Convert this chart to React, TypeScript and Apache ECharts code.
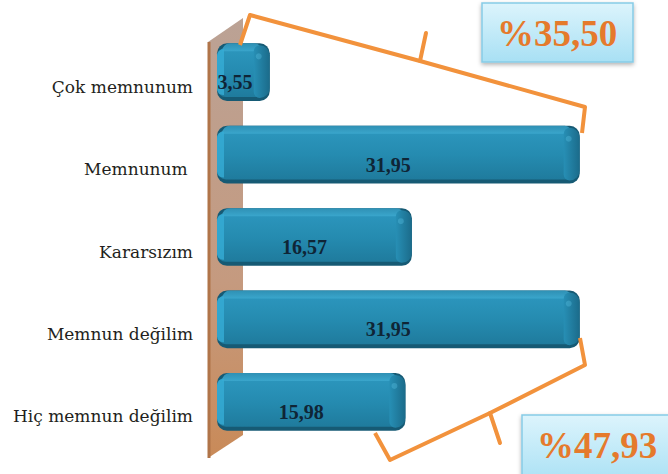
import React, { useEffect, useRef } from 'react';
import * as echarts from 'echarts';

const categories = ['Çok memnunum', 'Memnunum ', 'Kararsızım', 'Memnun değilim', 'Hiç memnun değilim'];
const values = [3.55, 31.95, 16.57, 31.95, 15.98];
const groupTotals = ['%35,50', '%47,93'];

const fmt = (v: number) => v.toFixed(2).replace('.', ',');

export default function App() {
  const ref = useRef<HTMLDivElement>(null);
  useEffect(() => {
    const chart = echarts.init(ref.current!, null, { renderer: 'svg' });
    const LG = echarts.graphic.LinearGradient;
    const orange = '#f2923c';
    const option: any = {
      animation: false,
      backgroundColor: '#ffffff',
      grid: { left: 231, right: 55, top: 31, bottom: 31 },
      xAxis: { type: 'value', min: 0, max: 35, show: false },
      yAxis: {
        type: 'category',
        data: categories,
        inverse: true,
        axisLine: { show: false },
        axisTick: { show: false },
        splitLine: { show: false },
        axisLabel: {
          margin: 38,
          verticalAlign: 'top',
          padding: [6, 0, 0, 0],
          fontFamily: 'DejaVu Serif',
          fontSize: 17,
          color: '#231f20',
        },
      },
      series: [
        {
          type: 'custom',
          z: 5,
          encode: { x: 0, y: 1 },
          data: values.map((v, i) => [v, i]),
          renderItem: (params: any, api: any) => {
            const v = api.value(0);
            const i = api.value(1);
            const end = api.coord([v, i]);
            const zero = api.coord([0, i]);
            const mid = api.coord([v / 2, i]);
            const band = api.size([0, 1])[1];
            const h = band * 0.7;
            const x0 = zero[0] - 14;
            const x1 = end[0];
            const top = end[1] - h / 2;
            const w = x1 - x0;
            return {
              type: 'group',
              children: [
                {
                  type: 'rect',
                  shape: { x: x0, y: top, width: w, height: h, r: 10 },
                  style: { fill: '#165a74' },
                },
                {
                  type: 'rect',
                  shape: { x: x0, y: top + 5, width: w - 8, height: h - 9, r: [8, 4, 4, 9] },
                  style: {
                    fill: new LG(0, 0, 0, 1, [
                      { offset: 0, color: '#2c96bd' },
                      { offset: 0.5, color: '#258bb0' },
                      { offset: 1, color: '#1f7b9d' },
                    ]),
                  },
                },
                {
                  type: 'rect',
                  shape: { x: x0 + 5, y: top, width: w - 14, height: 8, r: [9, 6, 0, 0] },
                  style: {
                    fill: new LG(0, 0, 0, 1, [
                      { offset: 0, color: '#2f90b4' },
                      { offset: 1, color: '#3aa6cc' },
                    ]),
                  },
                },
                {
                  type: 'rect',
                  shape: { x: x0, y: top + 6, width: 7, height: h - 12, r: [6, 0, 0, 6] },
                  style: { fill: '#36acd6', opacity: 0.8 },
                },
                {
                  type: 'rect',
                  shape: { x: x1 - 16, y: top + 2, width: 16, height: h - 5, r: [6, 10, 10, 6] },
                  style: {
                    fill: new LG(0, 0, 1, 0, [
                      { offset: 0, color: '#278fb5' },
                      { offset: 1, color: '#1b6b8a' },
                    ]),
                  },
                },
                {
                  type: 'circle',
                  shape: { cx: x1 - 11, cy: top + 13, r: 3 },
                  style: { fill: '#5cc2e4', opacity: 0.35 },
                },
                {
                  type: 'text',
                  x: Math.max(mid[0] - 17, x0 + 18),
                  y: end[1] + 10,
                  style: {
                    text: fmt(v),
                    font: 'bold 20px "Liberation Serif", serif',
                    fill: '#0f2536',
                    align: 'center',
                    verticalAlign: 'middle',
                  },
                },
              ],
            };
          },
        },
      ],
      graphic: [
        {
          type: 'polygon',
          z: 0,
          shape: { points: [[208, 42], [243, 18], [243, 435], [208, 458]] },
          style: {
            fill: new LG(0, 0, 0, 1, [
              { offset: 0, color: '#bba295' },
              { offset: 0.6, color: '#c59a7f' },
              { offset: 1, color: '#c98a58' },
            ]),
          },
        },
        {
          type: 'line',
          z: 0,
          shape: { x1: 209, y1: 42, x2: 209, y2: 458 },
          style: { stroke: '#b07449', lineWidth: 3 },
        },
        {
          type: 'polyline',
          z: 10,
          shape: { points: [[240, 45], [250, 15], [420, 61], [585, 107], [582, 133]] },
          style: { stroke: orange, lineWidth: 4, fill: null, lineJoin: 'round' },
        },
        {
          type: 'line',
          z: 10,
          shape: { x1: 420, y1: 61, x2: 426, y2: 33 },
          style: { stroke: orange, lineWidth: 4, lineCap: 'round' },
        },
        {
          type: 'polyline',
          z: 10,
          shape: { points: [[580, 338], [585, 365], [490, 413], [390, 460], [375, 433]] },
          style: { stroke: orange, lineWidth: 4, fill: null, lineJoin: 'round' },
        },
        {
          type: 'line',
          z: 10,
          shape: { x1: 490, y1: 413, x2: 500, y2: 443 },
          style: { stroke: orange, lineWidth: 4, lineCap: 'round' },
        },
        {
          type: 'rect',
          z: 10,
          shape: { x: 482, y: 3, width: 151, height: 59 },
          style: {
            fill: new LG(0, 0, 0, 1, [
              { offset: 0, color: '#dcf4fc' },
              { offset: 1, color: '#a8e0f4' },
            ]),
            stroke: '#86cbe6',
            lineWidth: 1.5,
            shadowBlur: 4,
            shadowOffsetY: 2,
            shadowColor: 'rgba(0,0,0,0.3)',
          },
        },
        {
          type: 'text',
          z: 11,
          x: 557,
          y: 33,
          style: {
            text: groupTotals[0],
            font: 'bold 37px "Liberation Serif", serif',
            fill: '#e57a2c',
            align: 'center',
            verticalAlign: 'middle',
          },
        },
        {
          type: 'rect',
          z: 10,
          shape: { x: 522, y: 415, width: 160, height: 70 },
          style: {
            fill: new LG(0, 0, 0, 1, [
              { offset: 0, color: '#dcf4fc' },
              { offset: 1, color: '#a8e0f4' },
            ]),
            stroke: '#86cbe6',
            lineWidth: 1.5,
            shadowBlur: 4,
            shadowOffsetY: 2,
            shadowColor: 'rgba(0,0,0,0.3)',
          },
        },
        {
          type: 'text',
          z: 11,
          x: 597,
          y: 445,
          style: {
            text: groupTotals[1],
            font: 'bold 37px "Liberation Serif", serif',
            fill: '#e57a2c',
            align: 'center',
            verticalAlign: 'middle',
          },
        },
      ],
    };
    chart.setOption(option);
    return () => chart.dispose();
  }, []);
  return <div ref={ref} style={{ position: 'fixed', left: 0, top: 0, width: 668, height: 474 }} />;
}
